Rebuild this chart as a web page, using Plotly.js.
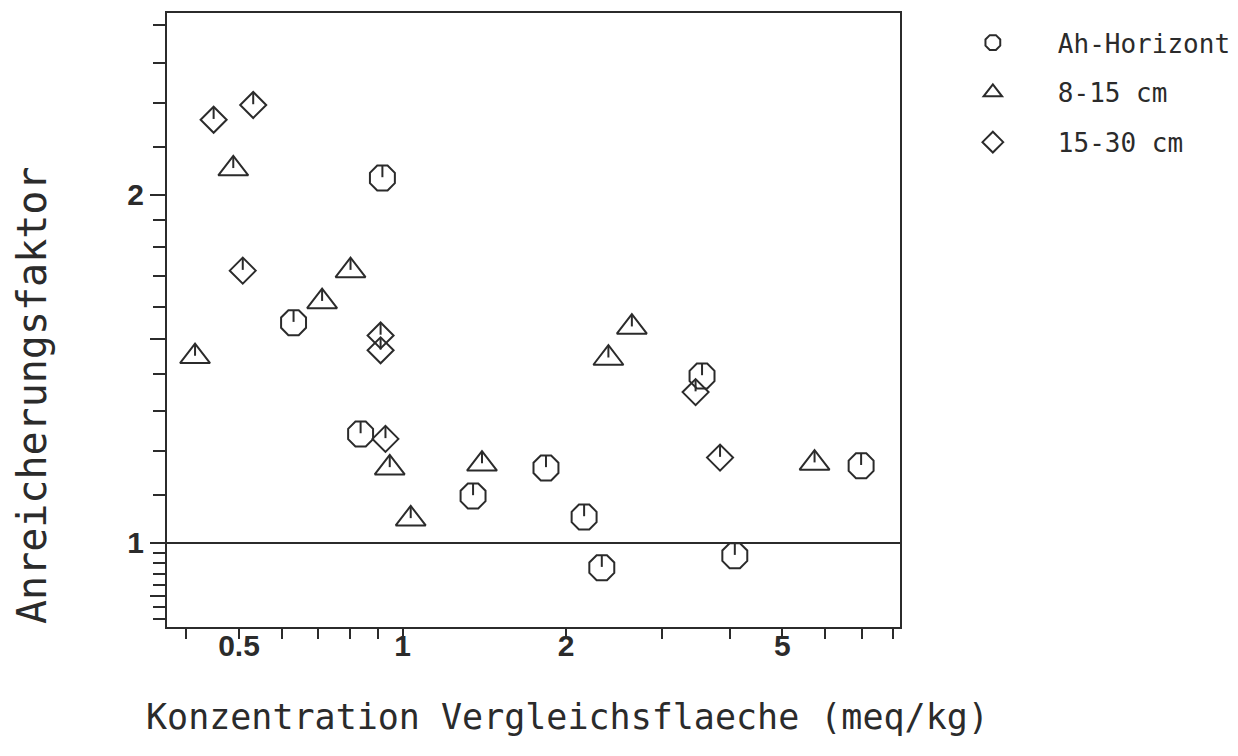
<!DOCTYPE html>
<html><head><meta charset="utf-8">
<script src="https://cdn.plot.ly/plotly-3.0.1.min.js"></script>
<style>html,body{margin:0;padding:0;background:#fff;} #chart{width:1238px;height:756px;}</style>
</head><body><div id="chart"></div>
<script>
// ---- data ----
const seriesNames = ['Ah-Horizont', '8-15 cm', '15-30 cm'];
const ahX = [0.918, 0.630, 0.837, 1.348, 1.836, 2.158, 2.326, 3.557, 4.087, 6.98];
const ahY = [2.067, 1.550, 1.242, 1.098, 1.161, 1.053, 0.952, 1.394, 0.975, 1.166];
const cm8X = [0.415, 0.488, 0.711, 0.802, 0.947, 1.035, 1.400, 2.392, 2.642, 5.73];
const cm8Y = [1.449, 2.105, 1.616, 1.719, 1.161, 1.049, 1.170, 1.444, 1.536, 1.172];
const cm15X = [0.449, 0.531, 0.508, 0.911, 0.911, 0.930, 3.461, 3.839];
const cm15Y = [2.321, 2.390, 1.719, 1.511, 1.467, 1.230, 1.350, 1.185];
const xTickVals = [0.5, 1, 2, 5];
const xTickText = ['0.5', '1', '2', '5'];
const xMinorVals = [0.4, 0.6, 0.7, 0.8, 0.9, 3, 4, 6, 7, 8];
const yTickVals = [0.9, 1, 1.5, 2];
const yTickText = ['', '1', '', '2'];
const yMinorVals = [0.86, 0.88, 0.92, 0.94, 0.96, 0.98, 1.1, 1.2, 1.3, 1.4, 1.6, 1.7, 1.8, 1.9, 2.2, 2.4, 2.6, 2.8];
const refLevel = 1;
const xTitle = 'Konzentration Vergleichsflaeche (meq/kg)';
const yTitle = 'Anreicherungsfaktor';

// ---- styling ----
const ink = '#2b2b2b';
const xRange = [Math.log10(0.3685), Math.log10(8.23)];
const yRange = [Math.log10(0.846), Math.log10(2.87)];
const tickShift = 0.0055; // small upward offset (log units) for the marker stems
const mono = 'DejaVu Sans Mono, Liberation Mono, monospace';
const sans = 'Liberation Sans, Arial, sans-serif';

const series = [
  {name: seriesNames[0], x: ahX, y: ahY, symbol: 'octagon-open', size: 27},
  {name: seriesNames[1], x: cm8X, y: cm8Y, symbol: 'triangle-up-open', size: 26},
  {name: seriesNames[2], x: cm15X, y: cm15Y, symbol: 'diamond-open', size: 20}
];

const traces = [];
series.forEach((s, i) => {
  traces.push({
    type: 'scatter', mode: 'markers', name: s.name, x: s.x, y: s.y,
    legendgroup: 'g' + i,
    marker: {symbol: s.symbol, size: s.size, color: ink, line: {color: ink, width: 2}},
    hoverinfo: 'x+y+name'
  });
});
series.forEach((s, i) => {
  traces.push({
    type: 'scatter', mode: 'markers', x: s.x, y: s.y, yaxis: 'y2',
    showlegend: false, hoverinfo: 'skip',
    marker: {symbol: 'line-ns-open', size: 8, color: ink, line: {color: ink, width: 2}}
  });
});

const layout = {
  width: 1238, height: 756,
  margin: {l: 167, r: 338, t: 13, b: 129, pad: 0, autoexpand: false},
  paper_bgcolor: '#fff', plot_bgcolor: '#fff',
  showlegend: true,
  legend: {
    x: 1.038, xanchor: 'left', y: 0.99, yanchor: 'top',
    font: {family: mono, size: 26, color: ink},
    itemwidth: 120, tracegroupgap: 13, bgcolor: 'rgba(0,0,0,0)', borderwidth: 0
  },
  xaxis: {
    type: 'log', range: xRange, showgrid: false, zeroline: false,
    showline: true, mirror: true, linecolor: ink, linewidth: 2,
    tickmode: 'array', tickvals: xTickVals, ticktext: xTickText,
    ticks: 'outside', ticklen: 10, tickwidth: 2, tickcolor: ink,
    ticklabelstandoff: -19,
    tickfont: {family: sans, size: 30, weight: 'bold', color: ink},
    minor: {tickmode: 'array', tickvals: xMinorVals, ticks: 'outside', ticklen: 10, tickwidth: 2, tickcolor: ink, showgrid: false}
  },
  yaxis: {
    type: 'log', range: yRange, showgrid: false, zeroline: false,
    showline: true, mirror: true, linecolor: ink, linewidth: 2,
    tickmode: 'array', tickvals: yTickVals, ticktext: yTickText,
    ticks: 'outside', ticklen: 15, tickwidth: 2, tickcolor: ink,
    tickfont: {family: sans, size: 30, weight: 'bold', color: ink},
    minor: {tickmode: 'array', tickvals: yMinorVals, ticks: 'outside', ticklen: 12, tickwidth: 2, tickcolor: ink, showgrid: false}
  },
  yaxis2: {
    type: 'log', overlaying: 'y', range: [yRange[0] - tickShift, yRange[1] - tickShift],
    visible: false, showgrid: false, zeroline: false
  },
  shapes: [{
    type: 'line', xref: 'paper', x0: 0, x1: 1, yref: 'y', y0: refLevel, y1: refLevel,
    line: {color: ink, width: 2}
  }],
  annotations: [
    {text: xTitle, xref: 'paper', yref: 'paper', x: 0.546, y: -0.147, xanchor: 'center', yanchor: 'middle',
     showarrow: false, font: {family: mono, size: 35, color: ink}},
    {text: yTitle, xref: 'paper', yref: 'paper', x: -0.184, y: 0.378, xanchor: 'center', yanchor: 'middle',
     textangle: -90, showarrow: false, font: {family: mono, size: 40, color: ink}}
  ]
};

Plotly.newPlot('chart', traces, layout, {displayModeBar: false, responsive: false});
</script>
</body></html>
